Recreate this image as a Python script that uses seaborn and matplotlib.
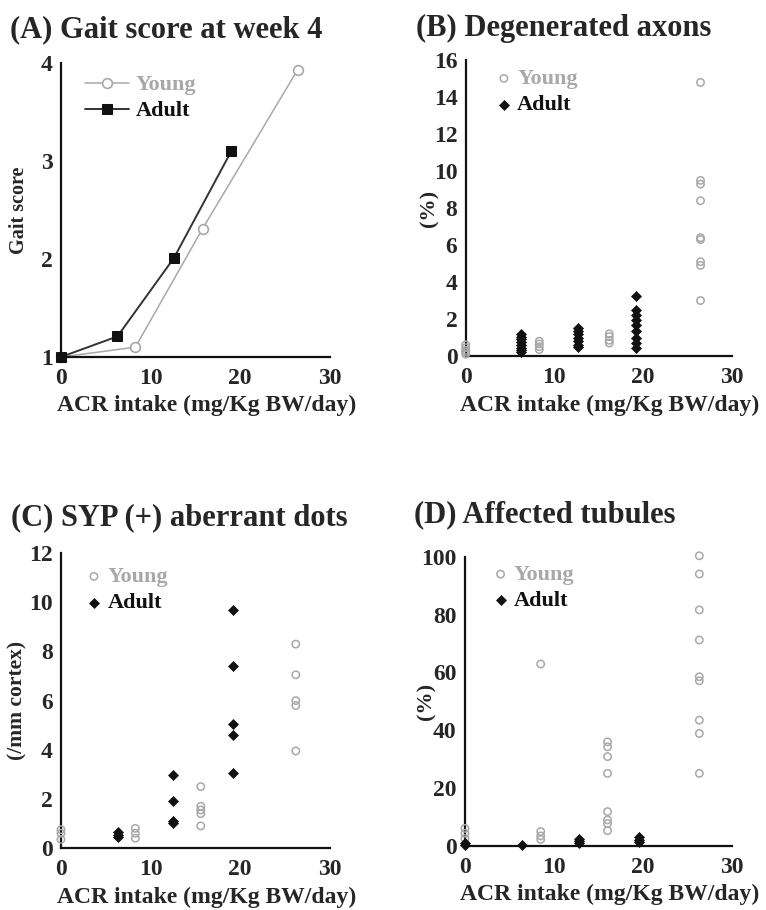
import numpy as np
import pandas as pd
import seaborn as sns
import matplotlib.pyplot as plt
import matplotlib as mpl

sns.set_style("white")
mpl.rcParams["font.family"] = ["Liberation Serif", "DejaVu Serif"]
mpl.rcParams["font.weight"] = "bold"
mpl.rcParams["axes.labelweight"] = "bold"

GRAY = "#a8a8a8"
BLACK = "#111111"

# (A) gait score
gait_young_x = [0, 8.3, 15.8, 26.4]
gait_young_y = [1.0, 1.1, 2.31, 3.93]
gait_adult_x = [0, 6.3, 12.6, 19.0]
gait_adult_y = [1.0, 1.21, 2.01, 3.1]

# (B) degenerated axons (%)
axon_young_x = [0] * 5 + [8.3] * 4 + [16.2] * 4 + [26.5] * 9
axon_young_y = [0.6, 0.45, 0.3, 0.2, 0.1,
                0.8, 0.65, 0.5, 0.35,
                1.2, 1.05, 0.85, 0.7,
                14.8, 9.5, 9.3, 8.4, 6.4, 6.3, 5.1, 4.9, 3.0]
axon_adult_x = [6.2] * 8 + [12.7] * 7 + [19.2] * 9
axon_adult_y = [1.2, 1.05, 0.9, 0.75, 0.6, 0.45, 0.3, 0.2,
                1.5, 1.35, 1.2, 1.0, 0.8, 0.6, 0.5,
                3.25, 2.5, 2.2, 1.95, 1.65, 1.35, 1.0, 0.7, 0.45]

# (C) SYP (+) aberrant dots (/mm cortex)
syp_young_x = [0] * 3 + [8.3] * 3 + [15.6] * 5 + [26.2] * 5
syp_young_y = [0.75, 0.6, 0.35,
               0.8, 0.6, 0.4,
               2.5, 1.7, 1.55, 1.4, 0.9,
               8.3, 7.05, 6.0, 5.8, 3.95]
syp_adult_x = [6.4] * 3 + [12.5] * 4 + [19.2] * 5
syp_adult_y = [0.65, 0.55, 0.45,
               2.97, 1.9, 1.1, 1.0,
               9.7, 7.4, 5.05, 4.6, 3.05]

# (D) affected tubules (%)
tub_young_x = [0] * 3 + [8.5] * 4 + [16.0] * 8 + [26.3] * 9
tub_young_y = [6.1, 4.4, 2.6,
               62.9, 5.0, 3.5, 2.3,
               36, 34.3, 30.9, 25.1, 11.9, 9, 7.8, 5.3,
               100.3, 94, 81.6, 71.2, 58.5, 57.1, 43.5, 38.9, 25.1]
tub_adult_x = [0] * 2 + [6.4] + [12.8] * 3 + [19.5] * 3
tub_adult_y = [0.5, 1.0, 0.5, 1.0, 1.8, 2.5, 1.5, 2.2, 3.0]

fig = plt.figure(figsize=(7.66, 9.1), dpi=100)
axA = fig.add_axes([0.0796, 0.6077, 0.351, 0.323])
axB = fig.add_axes([0.608, 0.6088, 0.347, 0.325])
axC = fig.add_axes([0.0796, 0.0681, 0.351, 0.324])
axD = fig.add_axes([0.607, 0.0703, 0.349, 0.318])


def style_axis(ax, ylim, yticks, ylabel, yl_size, yl_x):
    ax.set_xlim(0, 30)
    ax.set_ylim(*ylim)
    ax.set_xticks([0, 10, 20, 30])
    ax.set_yticks(yticks)
    sns.despine(ax=ax)
    for s in ["left", "bottom"]:
        ax.spines[s].set_color(BLACK)
        ax.spines[s].set_linewidth(1.6)
    ax.tick_params(axis="y", direction="out", length=5, width=1.2,
                   labelsize=17, pad=1, color=BLACK)
    ax.tick_params(axis="x", direction="in", length=4, width=1.0,
                   labelsize=17, pad=8, color=BLACK)
    ax.set_xlabel("ACR intake (mg/Kg BW/day)", fontsize=17, labelpad=4)
    ax.xaxis.set_label_coords(0.54, -0.13)
    ax.set_ylabel(ylabel, fontsize=yl_size)
    ax.yaxis.set_label_coords(yl_x, 0.5)


# (A)
dfA = pd.DataFrame({
    "dose": gait_young_x + gait_adult_x,
    "score": gait_young_y + gait_adult_y,
    "group": ["Young"] * len(gait_young_x) + ["Adult"] * len(gait_adult_x),
})
sns.lineplot(data=dfA[dfA.group == "Young"], x="dose", y="score", ax=axA,
             color=GRAY, lw=1.1, marker="o", ms=7, mfc="white", mec=GRAY,
             mew=1.2, label="Young", clip_on=False)
sns.lineplot(data=dfA[dfA.group == "Adult"], x="dose", y="score", ax=axA,
             color="#333333", lw=1.4, marker="s", ms=7, mfc=BLACK, mec=BLACK,
             label="Adult", clip_on=False)
style_axis(axA, (1, 4), [1, 2, 3, 4], "Gait score", 14.5, -0.12)


def scatter_panel(ax, yx, yy, ax_, ay):
    sns.scatterplot(x=yx, y=yy, ax=ax, marker="o", s=28, facecolors="none",
                    edgecolors=GRAY, linewidths=1.1, label="Young",
                    clip_on=False, zorder=3)
    sns.scatterplot(x=ax_, y=ay, ax=ax, marker="D", s=26, color=BLACK,
                    edgecolor=BLACK, linewidth=0.5, label="Adult",
                    clip_on=False, zorder=4)


scatter_panel(axB, axon_young_x, axon_young_y, axon_adult_x, axon_adult_y)
style_axis(axB, (0, 16), list(range(0, 17, 2)), "(%)", 16, -0.1)

scatter_panel(axC, syp_young_x, syp_young_y, syp_adult_x, syp_adult_y)
style_axis(axC, (0, 12), list(range(0, 13, 2)), "(/mm cortex)", 15.5, -0.125)

scatter_panel(axD, tub_young_x, tub_young_y, tub_adult_x, tub_adult_y)
style_axis(axD, (0, 100), list(range(0, 101, 20)), "(%)", 16, -0.108)

for ax, hl, bx, by in [(axA, 2.0, 0.03, 1.013), (axB, 0.6, 0.06, 1.024),
                       (axC, 0.6, 0.04, 1.007), (axD, 0.6, 0.05, 1.027)]:
    leg = ax.legend(loc="upper left", bbox_to_anchor=(bx, by),
                    frameon=False, fontsize=16, handlelength=hl,
                    handletextpad=0.3, labelspacing=0.25, borderpad=0.2)
    leg.get_texts()[0].set_color(GRAY)
    leg.get_texts()[1].set_color(BLACK)

fig.text(0.013, 0.967, "(A) Gait score at week 4", fontsize=22,
         fontweight="bold", va="center", ha="left")
fig.text(0.543, 0.969, "(B) Degenerated axons", fontsize=22,
         fontweight="bold", va="center", ha="left")
fig.text(0.015, 0.431, "(C) SYP (+) aberrant dots", fontsize=22,
         fontweight="bold", va="center", ha="left")
fig.text(0.540, 0.434, "(D) Affected tubules", fontsize=22,
         fontweight="bold", va="center", ha="left")

fig.savefig("out.png", dpi=100)
